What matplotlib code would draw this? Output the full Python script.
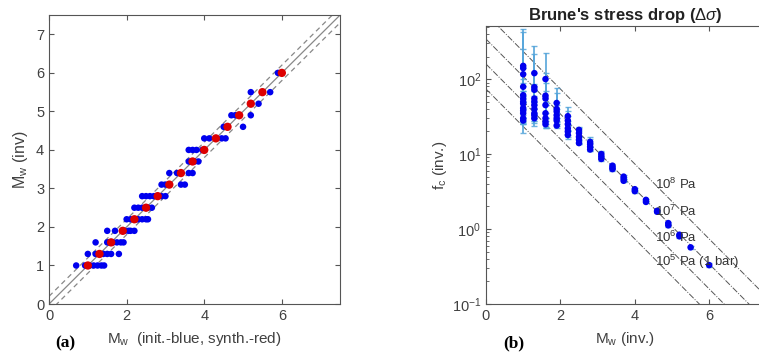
import numpy as np
import matplotlib
matplotlib.use('Agg')
import matplotlib.pyplot as plt
from matplotlib.ticker import LogLocator, NullFormatter

plt.rcParams['font.family'] = ['Liberation Sans', 'DejaVu Sans']
plt.rcParams['mathtext.fontset'] = 'custom'
plt.rcParams['mathtext.rm'] = 'Liberation Sans'
plt.rcParams['mathtext.it'] = 'Liberation Sans:italic'
plt.rcParams['mathtext.bf'] = 'Liberation Sans:bold'

# ---- panel (a): initial / synthetic Mw vs inverted Mw ----
synth_mw = [1.0, 1.3, 1.6, 1.9, 2.2, 2.5, 2.8, 3.1, 3.4, 3.7, 4.0, 4.3, 4.6, 4.9, 5.2, 5.5, 6.0]

init_x = {
    1.0: [0.7, 0.93, 1.05, 1.15, 1.25, 1.35, 1.42],
    1.3: [1.0, 1.2, 1.32, 1.4, 1.5, 1.6, 1.8],
    1.6: [1.2, 1.5, 1.55, 1.65, 1.75, 1.85, 1.92],
    1.9: [1.5, 1.7, 1.95, 2.05, 2.1, 2.2],
    2.2: [2.0, 2.1, 2.25, 2.3, 2.4, 2.5, 2.55],
    2.5: [2.2, 2.3, 2.4, 2.55, 2.65],
    2.8: [2.4, 2.5, 2.6, 2.7, 2.9, 3.0],
    3.1: [2.9, 3.0, 3.4, 3.5],
    3.4: [3.1, 3.3, 3.6, 3.7],
    3.7: [3.6, 3.65, 3.75, 3.85],
    4.0: [3.6, 3.7, 3.8, 3.95],
    4.3: [4.0, 4.13, 4.45, 4.55],
    4.6: [4.5, 5.0],
    4.9: [4.7, 4.8, 5.2],
    5.2: [5.4],
    5.5: [5.2, 5.7],
    6.0: [5.9],
}

# ---- panel (b): corner frequency vs Mw ----
fc_data = {
    1.0: [150, 140, 116, 79, 61, 55, 50, 47, 41, 38, 35, 30, 28],
    1.3: [120, 78, 72, 55, 50, 45, 40, 35, 33, 30],
    1.6: [100, 60, 55, 45, 35, 30, 27, 25],
    1.9: [48, 40, 37, 33, 30, 28, 24],
    2.2: [32, 28, 25, 22, 20, 18],
    2.5: [21, 19, 17, 15.5, 14],
    2.8: [14.5, 13.5, 12.5, 11.5],
    3.1: [10, 9.3, 8.6],
    3.4: [7.0, 6.6, 6.3],
    3.7: [5.0, 4.7, 4.4],
    4.0: [3.4, 3.2],
    4.3: [2.45, 2.3],
    4.6: [1.75, 1.7],
    4.9: [1.2, 1.12],
    5.2: [0.84, 0.8],
    5.5: [0.57],
    6.0: [0.33],
}
fc_lo = {
    1.0: [60, 70, 50, 40, 30, 27, 25, 30, 19, 28, 30, 26, 25],
    1.3: [50, 40, 35, 30, 33, 28, 30, 24, 28, 26],
    1.6: [45, 30, 30, 28, 22, 25, 23, 22],
    1.9: [30, 28, 30, 25, 24, 25, 22],
    2.2: [25, 20, 20, 18, 17, 16],
    2.5: [17, 15, 14, 13.5, 13.5],
    2.8: [12.5, 11, 11.5, 11],
    3.1: [9, 8.5, 8],
    3.4: [6.6, 6.2, 6.0],
    3.7: [4.7, 4.4, 4.2],
    4.0: [3.25, 3.05],
    4.3: [2.35, 2.2],
    4.6: [1.68, 1.63],
    4.9: [1.15, 1.08],
    5.2: [0.81, 0.77],
    5.5: [0.55],
    6.0: [0.31],
}
fc_hi = {
    1.0: [460, 430, 250, 140, 100, 90, 80, 70, 60, 55, 50, 40, 33],
    1.3: [280, 215, 120, 85, 80, 70, 60, 50, 45, 40],
    1.6: [220, 120, 90, 70, 50, 45, 35, 30],
    1.9: [75, 65, 50, 45, 40, 35, 27],
    2.2: [42, 38, 32, 28, 24, 21],
    2.5: [23, 22, 20, 17, 15.5],
    2.8: [17, 16, 14, 12.5],
    3.1: [11, 10.5, 9.5],
    3.4: [7.4, 7.0, 6.6],
    3.7: [5.3, 5.0, 4.6],
    4.0: [3.55, 3.35],
    4.3: [2.55, 2.4],
    4.6: [1.82, 1.77],
    4.9: [1.25, 1.16],
    5.2: [0.87, 0.83],
    5.5: [0.59],
    6.0: [0.35],
}

stress_drops = [1e5, 1e6, 1e7, 1e8]
stress_labels = [r'$10^5$ Pa (1 bar)', r'$10^6$ Pa', r'$10^7$ Pa', r'$10^8$ Pa']
label_y = [0.36, 0.78, 1.74, 3.9]
beta = 3500.0  # shear wave velocity, m/s

fig = plt.figure(figsize=(7.59, 3.58), dpi=100)
txt_col = '#404040'
spine_col = '#555555'

# ================= panel (a) =================
ax1 = fig.add_axes([0.0646, 0.1508, 0.3834, 0.807])
ref = np.array([0, 7.5])
ax1.plot(ref, ref, color='#888888', lw=0.9, zorder=1)
ax1.plot(ref, ref + 0.2, color='#888888', lw=0.9, ls=(0, (4, 3)), zorder=1)
ax1.plot(ref, ref - 0.2, color='#888888', lw=0.9, ls=(0, (4, 3)), zorder=1)

bx, by = [], []
for level, xs in init_x.items():
    bx += xs
    by += [level] * len(xs)
ax1.scatter(bx, by, s=22, color='#0000EE', edgecolors='none', zorder=2)
ax1.scatter(synth_mw, synth_mw, s=36, color='#DD0000', edgecolors='none', zorder=3)

ax1.set_xlim(0, 7.5)
ax1.set_ylim(0, 7.5)
ax1.set_xticks([0, 2, 4, 6])
ax1.set_yticks(range(8))
ax1.set_xlabel(r'M$_\mathrm{w}$  (init.-blue, synth.-red)', fontsize=11, color=txt_col, labelpad=5)
ax1.set_ylabel(r'M$_\mathrm{w}$ (inv)', fontsize=11.5, color=txt_col, labelpad=4)

# ================= panel (b) =================
ax2 = fig.add_axes([0.6403, 0.1508, 0.3676, 0.7765])
mw_line = np.linspace(0, 7.5, 200)
for sd in stress_drops:
    m0 = 10 ** (1.5 * mw_line + 9.1)
    fc_line = 0.49 * beta * (sd / m0) ** (1 / 3)
    ax2.plot(mw_line, fc_line, color='#555555', lw=0.7, ls='-.', zorder=1)

for mw, fcs in fc_data.items():
    fcs = np.array(fcs)
    lo = fcs - np.array(fc_lo[mw])
    hi = np.array(fc_hi[mw]) - fcs
    ax2.errorbar([mw] * len(fcs), fcs, yerr=[lo, hi], fmt='none',
                 ecolor='#55A5DA', elinewidth=1.4, capsize=2.4, capthick=1.0,
                 alpha=0.85, zorder=2)
    ax2.scatter([mw] * len(fcs), fcs, s=22, color='#0000EE', edgecolors='none', zorder=3)

for lab, yv in zip(stress_labels, label_y):
    ax2.text(4.55, yv, lab, fontsize=9.5, color='#333333', va='center', ha='left', zorder=4)

ax2.set_yscale('log')
ax2.set_xlim(0, 7.5)
ax2.set_ylim(0.1, 510)
ax2.set_xticks([0, 2, 4, 6])
ax2.yaxis.set_major_locator(LogLocator(base=10, numticks=10))
ax2.yaxis.set_minor_locator(LogLocator(base=10, subs=np.arange(2, 10), numticks=20))
ax2.yaxis.set_minor_formatter(NullFormatter())
ax2.set_xlabel(r'M$_\mathrm{w}$ (inv.)', fontsize=11, color=txt_col, labelpad=5)
ax2.set_ylabel(r'f$_\mathrm{c}$ (inv.)', fontsize=11, color=txt_col, labelpad=2)
ax2.set_title(r"Brune's stress drop ($\Delta\sigma$)", fontsize=12, fontweight='bold',
              color='#222222', pad=4)

for ax in (ax1, ax2):
    for sp in ax.spines.values():
        sp.set_color(spine_col)
        sp.set_linewidth(0.8)
    ax.tick_params(which='both', direction='in', top=True, right=True,
                   colors=spine_col, labelcolor=txt_col, labelsize=10.5)
    ax.tick_params(which='major', length=3.5)
    ax.tick_params(which='minor', length=2)

fig.text(0.0725, 0.04, '(a)', fontsize=12.5, fontweight='bold',
         family='Liberation Serif', ha='left', va='center')
fig.text(0.663, 0.04, '(b)', fontsize=12.5, fontweight='bold',
         family='Liberation Serif', ha='left', va='center')

fig.savefig('out.png', dpi=100)
